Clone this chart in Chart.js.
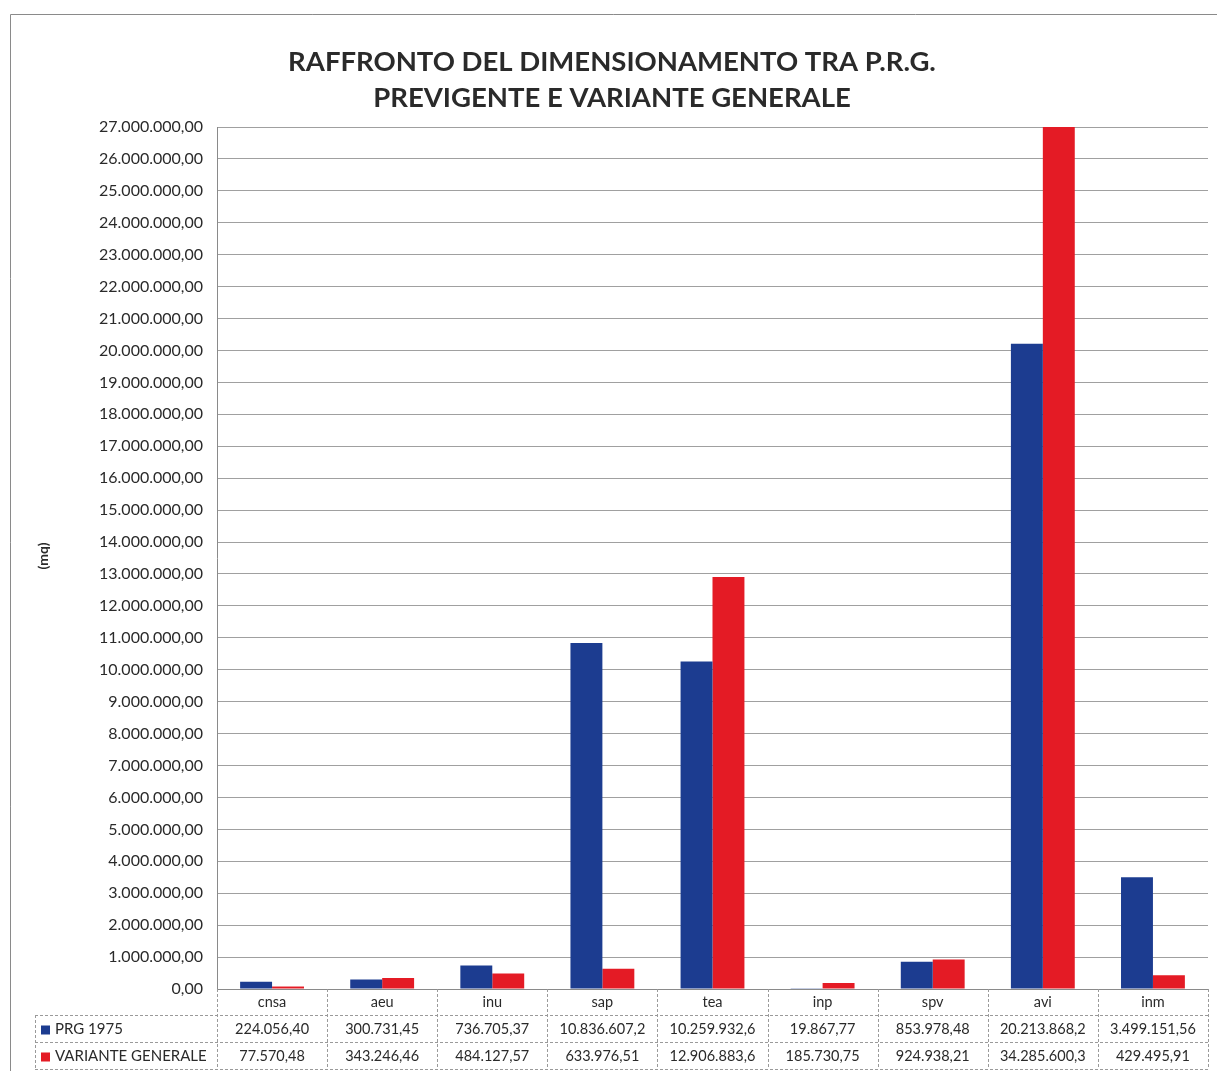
<!DOCTYPE html>
<html>
<head>
<meta charset="utf-8">
<script src="https://cdn.jsdelivr.net/npm/chart.js@4.4.1/dist/chart.umd.min.js"></script>
<style>
html,body{margin:0;padding:0;background:#fff;}
#wrap{position:absolute;left:0;top:0;width:1217px;height:1071px;}
</style>
</head>
<body>
<div id="wrap"><canvas id="c" width="1217" height="1071"></canvas></div>
<script>
const categories = ['cnsa','aeu','inu','sap','tea','inp','spv','avi','inm'];
const prg1975 = [224056.40, 300731.45, 736705.37, 10836607.2, 10259932.6, 19867.77, 853978.48, 20213868.2, 3499151.56];
const variante = [77570.48, 343246.46, 484127.57, 633976.51, 12906883.6, 185730.75, 924938.21, 34285600.3, 429495.91];
const seriesNames = ['PRG 1975', 'VARIANTE GENERALE'];
const titleLines = ['RAFFRONTO DEL DIMENSIONAMENTO TRA P.R.G.', 'PREVIGENTE E VARIANTE GENERALE'];
const yTitle = '(mq)';
const yMax = 27000000;
const yStep = 1000000;

const BLUE = '#1c3c90';
const RED = '#e41b25';
const TXT = '#2a2a2a';
const FONT = 'Lato, "Open Sans", sans-serif';

function fmtIt(v, dec) {
  const s = Math.abs(v).toFixed(dec);
  let [ip, fp] = s.split('.');
  ip = ip.replace(/\B(?=(\d{3})+(?!\d))/g, '.');
  return (v < 0 ? '-' : '') + ip + (fp ? ',' + fp : '');
}
function fmtTable(v) {
  return fmtIt(v, v >= 10000000 ? 1 : 2);
}

const framePlugin = {
  id: 'frame',
  beforeDraw(chart) {
    const ctx = chart.ctx;
    ctx.save();
    ctx.fillStyle = '#fff';
    ctx.fillRect(0, 0, chart.width, chart.height);
    ctx.strokeStyle = '#8a8a8a';
    ctx.lineWidth = 1;
    ctx.beginPath();
    ctx.moveTo(10.5, chart.height);
    ctx.lineTo(10.5, 14.5);
    ctx.lineTo(chart.width, 14.5);
    ctx.stroke();
    ctx.restore();
  },
  afterDraw(chart) {
    const ctx = chart.ctx;
    const area = chart.chartArea;
    const xs = chart.scales.x;
    ctx.save();
    // title
    ctx.fillStyle = TXT;
    ctx.textAlign = 'center';
    ctx.textBaseline = 'middle';
    ctx.font = 'bold 27.5px ' + FONT;
    ctx.fillText(titleLines[0], 612, 62);
    ctx.fillText(titleLines[1], 612, 98);
    // y title
    ctx.save();
    ctx.translate(43, 556);
    ctx.rotate(-Math.PI / 2);
    ctx.font = 'bold 14px ' + FONT;
    ctx.fillText(yTitle, 0, 0);
    ctx.restore();

    // data table
    const n = categories.length;
    const colW = (area.right - area.left) / n;
    const r0 = area.bottom, r1 = r0 + 26, r2 = r1 + 27, r3 = r2 + 27;
    const tableLeft = 35;
    ctx.strokeStyle = '#9a9a9a';
    ctx.lineWidth = 1;
    ctx.setLineDash([3, 2]);
    ctx.beginPath();
    [r1, r2, r3].forEach(y => {
      ctx.moveTo(tableLeft, Math.round(y) + 0.5);
      ctx.lineTo(area.right, Math.round(y) + 0.5);
    });
    for (let i = 0; i <= n; i++) {
      const x = Math.round(area.left + i * colW) + 0.5;
      ctx.moveTo(x, r0);
      ctx.lineTo(x, r3);
    }
    ctx.moveTo(tableLeft + 0.5, r1);
    ctx.lineTo(tableLeft + 0.5, r3);
    ctx.stroke();
    ctx.setLineDash([]);

    ctx.font = '14.5px ' + FONT;
    ctx.fillStyle = TXT;
    ctx.textAlign = 'center';
    for (let i = 0; i < n; i++) {
      const cx = xs.getPixelForValue(i);
      ctx.fillText(categories[i], cx, (r0 + r1) / 2);
      ctx.fillText(fmtTable(prg1975[i]), cx, (r1 + r2) / 2 + 1);
      ctx.fillText(fmtTable(variante[i]), cx, (r2 + r3) / 2 + 1);
    }
    // legend keys
    ctx.textAlign = 'left';
    ctx.font = '15px ' + FONT;
    const rows = [[(r1 + r2) / 2 + 1, BLUE, seriesNames[0]], [(r2 + r3) / 2 + 1, RED, seriesNames[1]]];
    rows.forEach(([y, col, name]) => {
      ctx.fillStyle = col;
      ctx.fillRect(41, y - 4, 9, 9);
      ctx.fillStyle = TXT;
      ctx.fillText(name, 55, y);
    });
    ctx.restore();
  }
};

new Chart(document.getElementById('c'), {
  type: 'bar',
  data: {
    labels: categories,
    datasets: [
      { label: seriesNames[0], data: prg1975, backgroundColor: BLUE, borderWidth: 0 },
      { label: seriesNames[1], data: variante, backgroundColor: RED, borderWidth: 0 }
    ]
  },
  options: {
    responsive: false,
    animation: false,
    devicePixelRatio: 1,
    layout: { padding: { left: 0, right: 9, top: 127, bottom: 82 } },
    datasets: { bar: { categoryPercentage: 0.58, barPercentage: 1.0 } },
    plugins: {
      legend: { display: false },
      title: { display: false },
      tooltip: { enabled: false }
    },
    scales: {
      x: {
        ticks: { display: false },
        grid: { display: false, drawTicks: false },
        border: { display: true, color: '#8a8a8a' },
        afterFit(s) { s.height = 0; }
      },
      y: {
        min: 0,
        max: yMax,
        ticks: {
          stepSize: yStep,
          padding: 14,
          color: TXT,
          font: { family: FONT, size: 16 },
          callback: v => fmtIt(v, 2)
        },
        grid: { color: '#a0a0a0', lineWidth: 1, drawTicks: false },
        border: { display: true, color: '#8a8a8a' },
        afterFit(s) { s.width = 217; }
      }
    }
  },
  plugins: [framePlugin]
});
</script>
</body>
</html>
